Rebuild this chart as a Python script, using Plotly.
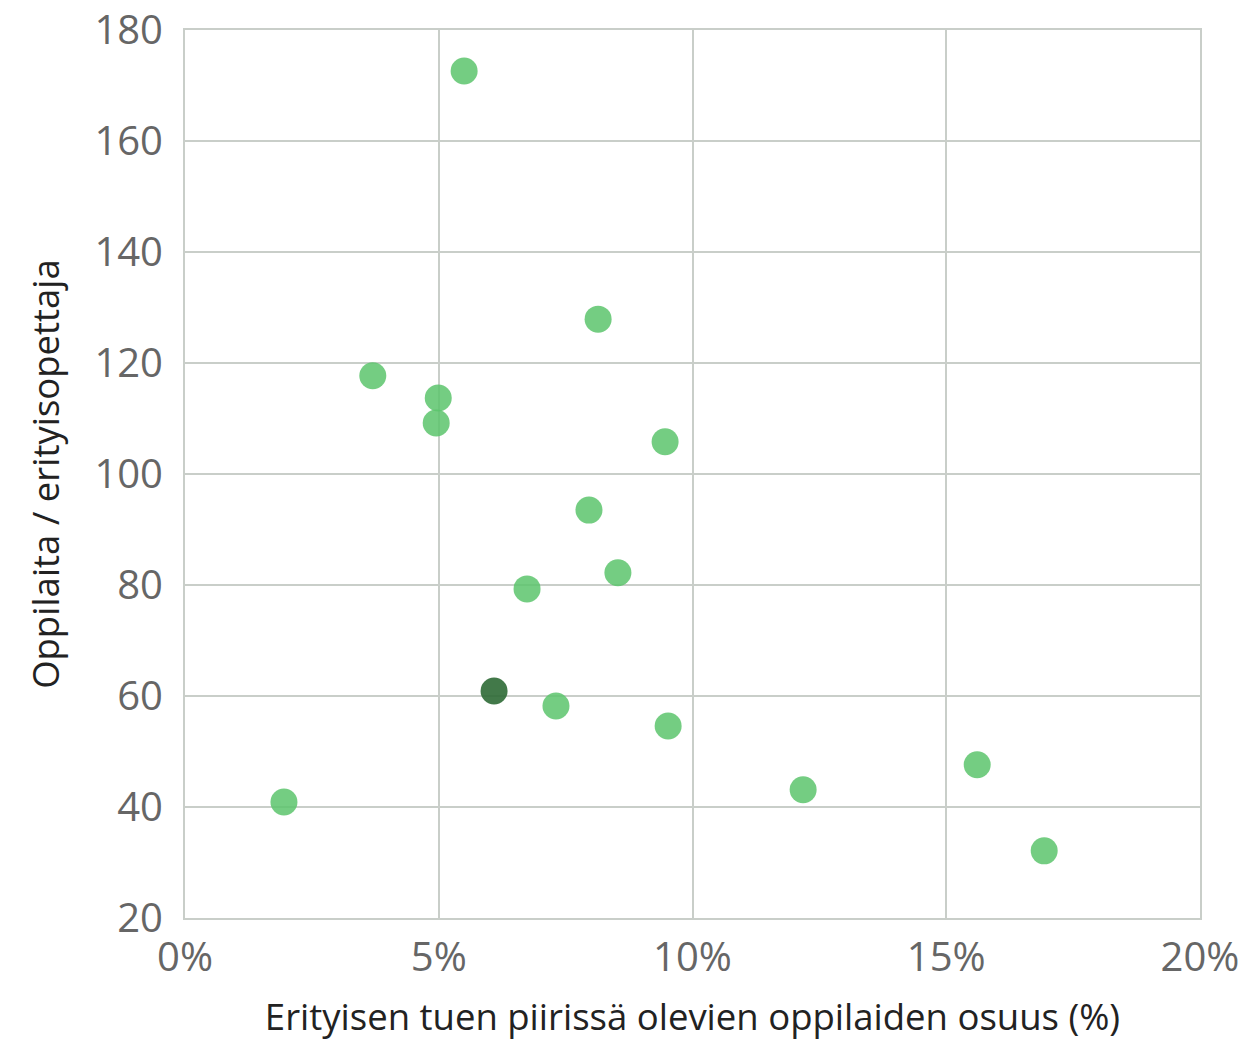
import plotly.graph_objects as go

share_pct = [5.50, 8.14, 3.70, 4.99, 4.95, 9.46, 7.96, 8.53, 6.74, 7.31, 9.52, 1.95, 12.18, 15.61, 16.93]
students_per_teacher = [172.6, 127.9, 117.7, 113.7, 109.2, 105.8, 93.5, 82.2, 79.3, 58.2, 54.6, 40.9, 43.1, 47.6, 32.1]

highlight_x = [6.09]
highlight_y = [60.9]

x_ticks = [0, 5, 10, 15, 20]
x_tick_labels = ["0%", "5%", "10%", "15%", "20%"]
y_ticks = [20, 40, 60, 80, 100, 120, 140, 160, 180]

grid = "#c9cec9"
fnt = "Open Sans"

fig = go.Figure()
fig.add_trace(go.Scatter(x=share_pct, y=students_per_teacher, mode="markers",
                         marker=dict(size=27, color="#5cc46c", opacity=0.85, line=dict(width=0)),
                         showlegend=False))
fig.add_trace(go.Scatter(x=highlight_x, y=highlight_y, mode="markers",
                         marker=dict(size=27, color="#2d6a35", opacity=0.9, line=dict(width=0)),
                         showlegend=False))

fig.update_layout(
    width=1234, height=1034,
    margin=dict(l=177, r=42, t=22, b=124, autoexpand=False),
    plot_bgcolor="white", paper_bgcolor="white",
    font=dict(family=fnt, color="#666666"),
    xaxis=dict(range=[0, 20], tickvals=x_ticks, ticktext=x_tick_labels,
               showgrid=True, gridcolor=grid, gridwidth=2, zeroline=False,
               showline=True, linecolor=grid, linewidth=2, mirror=True,
               tickfont=dict(size=40, color="#666666"), ticks="", ticklabelstandoff=3,
               ticklabeloverflow="allow", automargin=False,
               title=dict(text="Erityisen tuen piirissä olevien oppilaiden osuus (%)",
                          font=dict(size=36.5, color="#222222"), standoff=22)),
    yaxis=dict(range=[20, 180], tickvals=y_ticks,
               showgrid=True, gridcolor=grid, gridwidth=2, zeroline=False,
               showline=True, linecolor=grid, linewidth=2, mirror=True,
               tickfont=dict(size=40, color="#666666"), ticks="", ticklabelstandoff=12,
               ticklabeloverflow="allow", automargin=False,
               title=dict(text="Oppilaita / erityisopettaja",
                          font=dict(size=36.5, color="#222222"), standoff=24)),
)

fig.write_html("out.html")
